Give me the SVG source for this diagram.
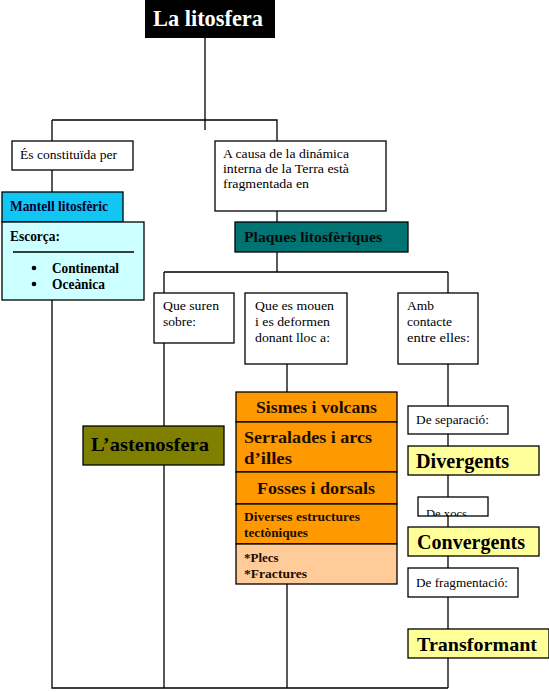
<svg xmlns="http://www.w3.org/2000/svg" width="549" height="692" viewBox="0 0 549 692">
<defs>
<style>
.ln{stroke:#000;stroke-width:1.3;fill:none}
.bx{stroke:#000;stroke-width:1.3}
.w{fill:#fff}
.t{font-family:"Liberation Serif","Times New Roman",serif;font-size:13.5px;fill:#000}
.b{font-family:"Liberation Serif","Times New Roman",serif;font-weight:bold;fill:#1a0d00}
</style>
<clipPath id="cx"><rect x="418" y="497" width="70" height="19"/></clipPath>
</defs>
<rect width="549" height="692" fill="#fff"/>
<g id="connectors">
<path class="ln" d="M205 38V130M52 120H277V141M52 120V141M52 170V192M52 300V688H448M277 211V222M277 252V272M164 272H448M164 272V293M448 272V293M164 343V688M287 364V392M287 584V688M448 364V688"/>
</g>
<g id="title">
<rect x="145" y="0" width="130" height="38" fill="#000"/>
<text x="153" y="26" style="font-family:'Liberation Serif',serif;font-weight:bold;font-size:24px;fill:#fff" textLength="110" lengthAdjust="spacingAndGlyphs">La litosfera</text>
</g>
<g id="es-constituida">
<rect class="bx w" x="12" y="141" width="121" height="29"/>
<text class="t" x="20" y="159" textLength="97" lengthAdjust="spacingAndGlyphs">És constituïda per</text>
</g>
<g id="a-causa">
<rect class="bx w" x="215" y="141" width="171" height="70"/>
<text class="t" x="223" y="158" textLength="126" lengthAdjust="spacingAndGlyphs">A causa de la dinámica</text>
<text class="t" x="223" y="173" textLength="126" lengthAdjust="spacingAndGlyphs">interna de la Terra està</text>
<text class="t" x="223" y="188" textLength="86" lengthAdjust="spacingAndGlyphs">fragmentada en</text>
</g>
<g id="mantell">
<rect class="bx" x="2" y="192" width="121" height="30" fill="#11c6f2"/>
<text class="b" x="10" y="211" font-size="14" style="fill:#000033" textLength="98" lengthAdjust="spacingAndGlyphs">Mantell litosfèric</text>
</g>
<g id="escorca">
<rect class="bx" x="2" y="222" width="142" height="78" fill="#ccffff"/>
<text class="b" x="10" y="241" font-size="14" style="fill:#000" textLength="50" lengthAdjust="spacingAndGlyphs">Escorça:</text>
<line x1="13" y1="252" x2="134" y2="252" class="ln"/>
<circle cx="34" cy="268" r="2.3" fill="#000"/>
<circle cx="34" cy="284" r="2.3" fill="#000"/>
<text class="b" x="52" y="273" font-size="14" style="fill:#000" textLength="67" lengthAdjust="spacingAndGlyphs">Continental</text>
<text class="b" x="52" y="289" font-size="14" style="fill:#000" textLength="53" lengthAdjust="spacingAndGlyphs">Oceànica</text>
</g>
<g id="plaques">
<rect class="bx" x="235" y="222" width="173" height="30" fill="#007373"/>
<text class="b" x="244" y="242" font-size="15" style="fill:#0a0a0a" textLength="138" lengthAdjust="spacingAndGlyphs">Plaques litosfèriques</text>
</g>
<g id="que-suren">
<rect class="bx w" x="154" y="293" width="80" height="50"/>
<text class="t" x="163" y="310" textLength="56" lengthAdjust="spacingAndGlyphs">Que suren</text>
<text class="t" x="163" y="326">sobre:</text>
</g>
<g id="que-es-mouen">
<rect class="bx w" x="245" y="293" width="102" height="71"/>
<text class="t" x="255" y="310" textLength="79" lengthAdjust="spacingAndGlyphs">Que es mouen</text>
<text class="t" x="255" y="326" textLength="75" lengthAdjust="spacingAndGlyphs">i es deformen</text>
<text class="t" x="255" y="342" textLength="75" lengthAdjust="spacingAndGlyphs">donant lloc a:</text>
</g>
<g id="amb-contacte">
<rect class="bx w" x="398" y="293" width="80" height="71"/>
<text class="t" x="407" y="310">Amb</text>
<text class="t" x="407" y="326">contacte</text>
<text class="t" x="407" y="342" textLength="63" lengthAdjust="spacingAndGlyphs">entre elles:</text>
</g>
<g id="astenosfera">
<rect class="bx" x="83" y="426" width="141" height="39" fill="#808000"/>
<text class="b" x="91" y="451" font-size="19" style="fill:#000" textLength="118" lengthAdjust="spacingAndGlyphs">L’astenosfera</text>
</g>
<g id="sismes">
<rect class="bx" x="236" y="392" width="161" height="30" fill="#ff9900"/>
<text class="b" x="256" y="413" font-size="16" textLength="121" lengthAdjust="spacingAndGlyphs">Sismes i volcans</text>
</g>
<g id="serralades">
<rect class="bx" x="236" y="422" width="161" height="50" fill="#ff9900"/>
<text class="b" x="244" y="443" font-size="16" textLength="128" lengthAdjust="spacingAndGlyphs">Serralades i arcs</text>
<text class="b" x="244" y="464" font-size="16" textLength="48" lengthAdjust="spacingAndGlyphs">d’illes</text>
</g>
<g id="fosses">
<rect class="bx" x="236" y="472" width="161" height="32" fill="#ff9900"/>
<text class="b" x="257" y="494" font-size="16" textLength="118" lengthAdjust="spacingAndGlyphs">Fosses i dorsals</text>
</g>
<g id="diverses">
<rect class="bx" x="236" y="504" width="161" height="40" fill="#ff9900"/>
<text class="b" x="244" y="521" font-size="12.5" textLength="116" lengthAdjust="spacingAndGlyphs">Diverses estructures</text>
<text class="b" x="244" y="537" font-size="12.5" textLength="64" lengthAdjust="spacingAndGlyphs">tectòniques</text>
</g>
<g id="plecs">
<rect class="bx" x="236" y="544" width="161" height="40" fill="#ffcc99"/>
<text class="b" x="244" y="562" font-size="13">*Plecs</text>
<text class="b" x="244" y="578" font-size="13" textLength="63" lengthAdjust="spacingAndGlyphs">*Fractures</text>
</g>
<g id="de-separacio">
<rect class="bx w" x="408" y="406" width="100" height="28"/>
<text class="t" x="416" y="424" textLength="73" lengthAdjust="spacingAndGlyphs">De separació:</text>
</g>
<g id="divergents">
<rect class="bx" x="408" y="446" width="131" height="29" fill="#ffff99"/>
<text class="b" x="416" y="468" font-size="20" style="fill:#000" textLength="93" lengthAdjust="spacingAndGlyphs">Divergents</text>
</g>
<g id="de-xocs">
<rect class="bx w" x="418" y="497" width="70" height="19"/>
<text class="t" x="426" y="518" clip-path="url(#cx)" textLength="41" lengthAdjust="spacingAndGlyphs">De xocs</text>
</g>
<g id="convergents">
<rect class="bx" x="408" y="527" width="131" height="29" fill="#ffff99"/>
<text class="b" x="417" y="549" font-size="20" style="fill:#000" textLength="108" lengthAdjust="spacingAndGlyphs">Convergents</text>
</g>
<g id="de-fragmentacio">
<rect class="bx w" x="408" y="568" width="110" height="29"/>
<text class="t" x="416" y="587" textLength="92" lengthAdjust="spacingAndGlyphs">De fragmentació:</text>
</g>
<g id="transformant">
<rect class="bx" x="408" y="629" width="141" height="29" fill="#ffff99"/>
<text class="b" x="417" y="651" font-size="19" style="fill:#000" textLength="120" lengthAdjust="spacingAndGlyphs">Transformant</text>
</g>
</svg>
